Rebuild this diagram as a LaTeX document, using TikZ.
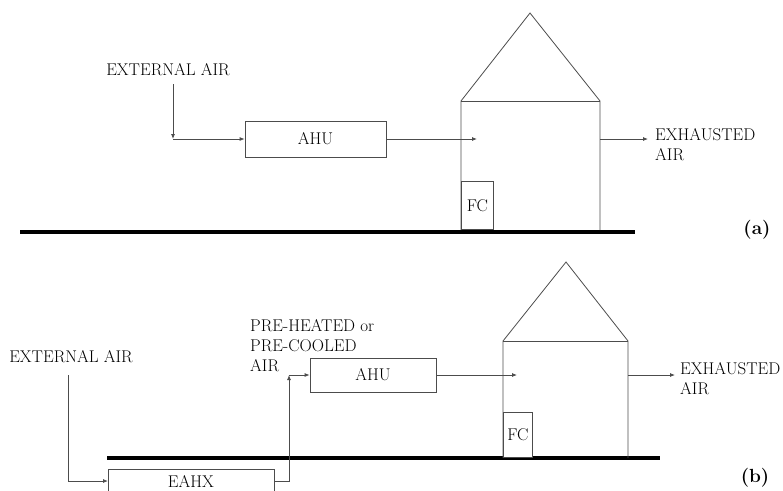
\documentclass[tikz,border=0pt]{standalone}
\usetikzlibrary{arrows.meta}
\begin{document}
\begin{tikzpicture}[x=1pt,y=-1pt,
  ln/.style={draw=black!70, line width=0.8pt},
  arr/.style={ln, -{Latex[length=5pt,width=4pt]}},
  box/.style={ln, fill=white, inner sep=0pt},
  lbl/.style={font=\fontsize{17}{20}\selectfont, inner sep=0pt},
  ground/.style={line width=4pt, black},
  tag/.style={font=\fontsize{19}{21}\selectfont\bfseries, inner sep=0pt}]
\useasboundingbox (0,0) rectangle (783,490);

% ---------- (a) ----------
\draw[ground] (20,232) -- (635,232);
\draw[ln] (461,230) -- (461,101) -- (530,13) -- (600,101) -- (600,230);
\draw[ln] (461,101) -- (600,101);
\node[box, minimum width=32pt, minimum height=48pt, anchor=south west, label={[lbl]center:FC}] (fca) at (461,230) {};
\node[box, minimum width=141pt, minimum height=36pt, lbl] (ahua) at (315.5,139) {AHU};
\node[lbl] (exta) at (168,70) {EXTERNAL AIR};
\coordinate (ca) at (173,139);
\coordinate (ina) at (477,139);
\coordinate (wa) at (600,139);
\coordinate (oa) at (648,139);
\node[lbl, anchor=west, align=left] (exha) at (655,145) {EXHAUSTED\\AIR};
\draw[arr] (173,84) -- (ca);
\draw[arr] (ca) -- (ahua.west);
\draw[arr] (ahua.east) -- (ina);
\draw[arr] (wa) -- (oa);
\node[tag] (taga) at (757,230) {(a)};

% ---------- (b) ----------
\draw[ground] (107,458) -- (660,458);
\draw[ln] (503,458) -- (503,341) -- (566,262) -- (628,341) -- (628,458);
\draw[ln] (503,341) -- (628,341);
\node[box, minimum width=29pt, minimum height=45pt, anchor=south west, label={[lbl]center:FC}] (fcb) at (503,458) {};
\node[box, minimum width=126pt, minimum height=34pt, lbl] (ahub) at (373,375) {AHU};
\draw[ln] (108,495) -- (108,469) -- (274,469) -- (274,495);
\node[lbl] (eahx) at (191,481) {EAHX};
\node[lbl] (extb) at (71,357) {EXTERNAL AIR};
\node[lbl, anchor=north west, align=left] (pre) at (250,319) {PRE-HEATED or\\PRE-COOLED\\AIR};
\coordinate (cb1) at (68,481);
\coordinate (inb) at (108,481);
\coordinate (outb) at (274,481);
\coordinate (cb2) at (289,481);
\coordinate (cb3) at (289,375);
\coordinate (inhb) at (517,375);
\coordinate (wb) at (628,375);
\coordinate (ob) at (675,375);
\node[lbl, anchor=west, align=left] (exhb) at (680,379) {EXHAUSTED\\AIR};
\draw[arr] (68,375) -- (cb1) -- (inb);
\draw[arr] (outb) -- (cb2) -- (cb3);
\draw[arr] (cb3) -- (ahub.west);
\draw[arr] (ahub.east) -- (inhb);
\draw[arr] (wb) -- (ob);
\node[tag] (tagb) at (755,478) {(b)};
\end{tikzpicture}
\end{document}
